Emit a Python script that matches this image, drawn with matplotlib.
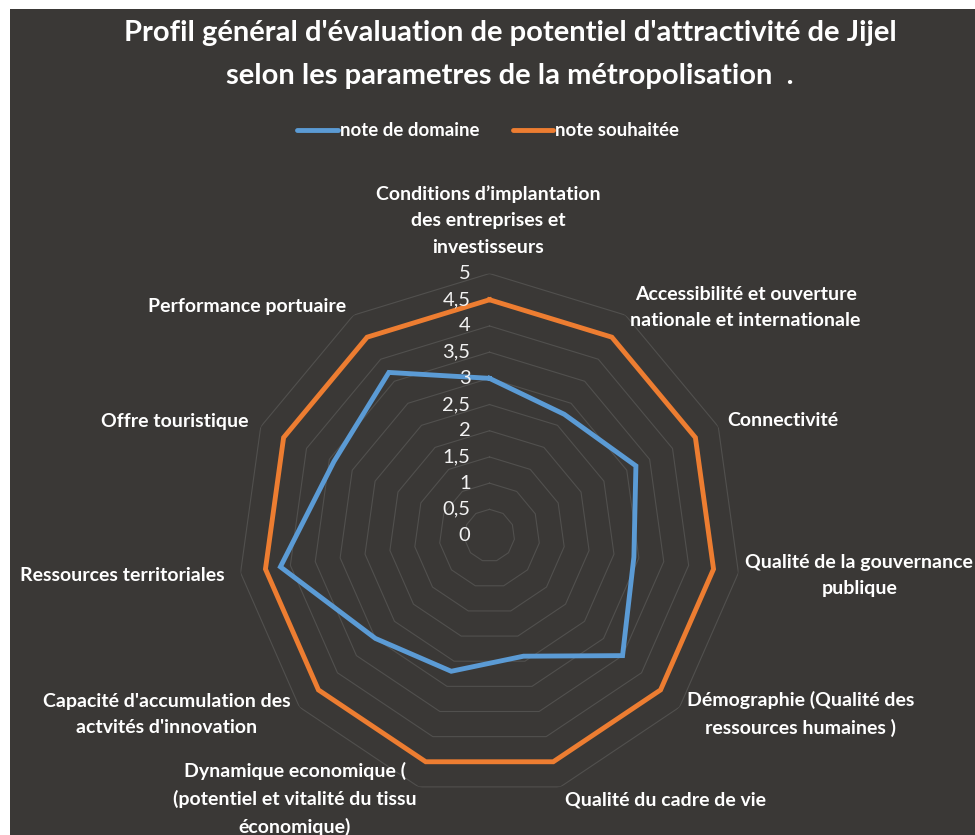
import numpy as np
import matplotlib.pyplot as plt
from matplotlib.lines import Line2D
from matplotlib.patches import Rectangle

# axes du radar
categories = [
    "Conditions d\u2019implantation\ndes entreprises et\ninvestisseurs",
    "Accessibilité et ouverture\nnationale et internationale",
    "Connectivité",
    "Qualité de la gouvernance\npublique",
    "Démographie (Qualité des\nressources humaines )",
    "Qualité du cadre de vie",
    "Dynamique economique (\n(potentiel et vitalité du tissu\néconomique)",
    "Capacité d'accumulation des\nactvités d'innovation",
    "Ressources territoriales",
    "Offre touristique",
    "Performance portuaire",
]
note_domaine = [3.0, 2.75, 3.2, 2.9, 3.5, 2.4, 2.7, 3.0, 4.2, 3.4, 3.7]
note_souhaitee = [4.5, 4.5, 4.5, 4.5, 4.5, 4.5, 4.5, 4.5, 4.5, 4.5, 4.5]
r_ticks = [0, 0.5, 1, 1.5, 2, 2.5, 3, 3.5, 4, 4.5, 5]
r_labels = ['0', '0,5', '1', '1,5', '2', '2,5', '3', '3,5', '4', '4,5', '5']

# position des etiquettes (ha, decalage x, decalage y en pixels)
label_pos = [
    ('center', -1, 53), ('left', 5, 8), ('left', 9, 6), ('left', 7, -3),
    ('left', 7, -7), ('left', 5, -13), ('right', -2, -12), ('right', -9, -7),
    ('right', -16, -3), ('right', -12, 5), ('right', -7, 9),
]

bg = '#3a3836'
grid_col = '#51504e'
blue = '#5b9bd5'
orange = '#ed7d31'
plt.rcParams['font.family'] = ['Lato', 'DejaVu Sans']

fig = plt.figure(figsize=(9.75, 8.35), dpi=100)
fig.patch.set_facecolor('white')
fig.patches.append(Rectangle((10 / 975, 0), 1, 1 - 9 / 835, transform=fig.transFigure,
                             facecolor=bg, edgecolor='none', zorder=-10))

ax = fig.add_axes([0.2441, 0.0449, 0.5159, 0.6275], projection='polar')
ax.set_aspect('auto')
ax.set_facecolor('none')
ax.set_theta_zero_location('N')
ax.set_theta_direction(-1)

n = len(categories)
angles = np.linspace(0, 2 * np.pi, n, endpoint=False)
closed = np.append(angles, angles[0])

# grille polygonale
for r in r_ticks[1:]:
    ax.plot(closed, [r] * (n + 1), color=grid_col, lw=0.8, zorder=1)

ax.plot(closed, note_domaine + note_domaine[:1], color=blue, lw=3.5, zorder=3,
        solid_joinstyle='miter')
ax.plot(closed, note_souhaitee + note_souhaitee[:1], color=orange, lw=3.5, zorder=3,
        solid_joinstyle='miter')

ax.set_ylim(0, 5)
ax.grid(False)
ax.spines['polar'].set_visible(False)
ax.set_xticks([])
ax.set_yticks([])

for r, lab in zip(r_ticks, r_labels):
    ax.annotate(lab, xy=(0, r), xytext=(-19, 0), textcoords='offset pixels',
                ha='right', va='center', color='#f2f2f2', fontsize=14.5, zorder=4)

for a, lab, (ha, dx, dy) in zip(angles, categories, label_pos):
    ax.annotate(lab, xy=(a, 5), xytext=(dx, dy), textcoords='offset pixels',
                ha=ha, va='center', multialignment='center', color='white',
                fontsize=14, fontweight='bold', linespacing=1.65,
                annotation_clip=False)

fig.text(0.523, 0.9347, "Profil général d'évaluation de potentiel d'attractivité de Jijel\n"
         "selon les parametres de la métropolisation  .",
         ha='center', va='center', color='white', fontsize=21, fontweight='bold',
         linespacing=1.8)

handles = [Line2D([], [], color=blue, lw=3.5, solid_capstyle='round'),
           Line2D([], [], color=orange, lw=3.5, solid_capstyle='round')]
fig.legend(handles, ['note de domaine', 'note souhaitée'], loc='center',
           bbox_to_anchor=(488 / 975, 1 - 131 / 835), ncol=2, frameon=False,
           handlelength=2.2, handletextpad=0.1, columnspacing=1.8,
           prop={'weight': 'bold', 'size': 13.4}, labelcolor='white')

fig.savefig('out.png', dpi=100, facecolor=fig.get_facecolor())
